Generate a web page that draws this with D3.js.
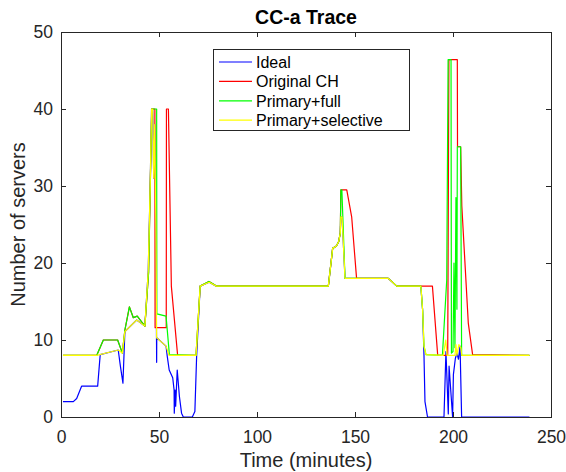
<!DOCTYPE html>
<html>
<head>
<meta charset="utf-8">
<script src="https://cdn.jsdelivr.net/npm/d3@7"></script>
<style>
  body { margin: 0; background: #fff; }
  text { font-family: "Liberation Sans", Arial, sans-serif; fill: #262626; }
</style>
</head>
<body>
<div id="chart"></div>
<script>
// data (time in minutes, number of servers)
var idealT = [1, 6.3, 8, 10.5, 18.7, 20, 29.2, 30.3, 31.6, 32.6, 38.6, 42.8, 44.5, 45.5, 46.2, 46.8, 47.3, 47.8, 48.4, 48.8, 48.85, 53.6, 54.2, 55.2, 57, 57.7, 57.8, 58.2, 58.5, 59.3, 60.4, 61.5, 62.4, 67, 68.3, 69.2, 71, 75.6, 79.2, 136.4, 138.6, 140.5, 141.7, 142.5, 142.8, 143.4, 144.9, 167, 171.3, 183.6, 184.5, 185.2, 185.7, 187, 195.4, 196.4, 197.6, 198, 199.8, 200.2, 201.2, 202, 202.8, 203.6, 204.4, 239];
var idealV = [2, 2, 2.4, 4, 4, 8.1, 8.7, 6.6, 4.4, 11.1, 12.6, 11.8, 19, 30, 40, 40, 31, 38, 25, 7.1, 10.3, 9.2, 7.9, 6.1, 5.1, 3.5, 0.5, 3.5, 1.4, 6.1, 2.7, 0.5, 0, 0, 0.7, 7.9, 17, 17.5, 17, 17, 21.9, 22.2, 22.8, 23.9, 26, 26, 18, 18, 17, 17, 13.9, 8, 2, 0, 0, 8.5, 0.4, 6.6, 0, 5.5, 7.6, 8.3, 7.5, 9.2, 0, 0];

var origT = [1, 18.2, 21.6, 28.9, 31.3, 32.6, 34.9, 36.9, 38.9, 42.8, 44.7, 46.3, 47.9, 48, 53.7, 53.8, 54.8, 56.3, 59.5, 68.9, 71, 75.5, 79.3, 136.4, 138.6, 140.5, 141.7, 142.5, 142.8, 145.8, 148.3, 150.8, 167, 171.3, 189.5, 192.2, 197.3, 197.9, 202.2, 202.3, 203.9, 204.5, 207.8, 210, 239];
var origV = [8, 8, 10, 10, 8.3, 11.3, 14.3, 12.9, 13.1, 11.8, 18.8, 40, 40, 11.6, 11.6, 40, 40, 17, 8, 8, 17, 17.6, 17, 17, 21.9, 22.2, 22.8, 23.9, 29.5, 29.5, 26, 18, 18, 17, 17, 8, 8, 46.4, 46.4, 35.1, 35.1, 27.4, 12.2, 8.1, 8];

var fullT = [1, 18.2, 21.6, 28.9, 31.3, 32.6, 34.9, 36.9, 38.9, 42.8, 44.7, 46.3, 48.8, 48.9, 53.6, 55.3, 68.9, 71, 75.5, 79.3, 136.4, 138.6, 140.5, 141.7, 142.5, 142.8, 143.3, 144.9, 167, 171.3, 183.6, 184.5, 185.2, 186.2, 194.6, 196.8, 197.5, 199, 199.2, 200, 200.5, 201, 201.5, 202, 202.2, 203.9, 204.4, 239];
var fullV = [8, 8, 10, 10, 8.3, 11.3, 14.3, 12.9, 13.1, 11.8, 18.8, 40, 40, 13.4, 13.1, 8.1, 8, 17, 17.6, 17, 17, 21.9, 22.2, 22.8, 23.9, 29.5, 29.5, 18, 18, 17, 17, 13.9, 9.2, 8.1, 8, 17.8, 46.4, 46.4, 8.3, 8.5, 20, 9, 28.5, 14, 35.1, 35.1, 8, 8];

var selT = [1, 18.3, 29.2, 31.3, 32.6, 38.6, 42.8, 44.5, 45.5, 46.2, 46.8, 47.3, 47.8, 48.4, 48.8, 53.6, 55.1, 68.9, 71, 75.6, 79.2, 136.4, 138.6, 140.5, 141.7, 142.5, 142.8, 143.4, 144.9, 167, 171.3, 183.6, 184.5, 185.2, 186.2, 195, 196.3, 197, 201, 201.5, 202, 203, 204, 204.5, 239];
var selV = [8, 8, 8.7, 8.3, 11.1, 12.6, 11.8, 19, 30, 40, 40, 31, 38, 25, 10.3, 9.2, 8, 8, 17, 17.5, 17, 17, 21.9, 22.2, 22.8, 23.9, 26, 26, 18, 18, 17, 17, 13.9, 9.2, 8.1, 8, 10, 8, 8, 9.4, 8, 9.4, 9, 8, 8];

var seriesNames = ["Ideal", "Original CH", "Primary+full", "Primary+selective"];
var seriesColors = ["#0000ff", "#ff0000", "#00ff00", "#ffff00"];
var xTicks = [0, 50, 100, 150, 200, 250];
var yTicks = [0, 10, 20, 30, 40, 50];

var svgWidth = 566;
var svgHeight = 472;

// plot box in pixels
var margin = { top: 32, right: 15, bottom: 55, left: 61 };
var width = svgWidth - margin.left - margin.right;
var height = svgHeight - margin.top - margin.bottom;

var svg = d3.select("#chart")
  .append("svg")
  .attr("width", svgWidth)
  .attr("height", svgHeight);

var g = svg.append("g")
  .attr("transform", `translate(${margin.left}, ${margin.top})`);

var xScale = d3.scaleLinear().domain([0, 250]).range([0, width]);
var yScale = d3.scaleLinear().domain([0, 50]).range([height, 0]);

// series lines, drawn in legend order so yellow ends on top
var seriesData = [
  d3.zip(idealT, idealV),
  d3.zip(origT, origV),
  d3.zip(fullT, fullV),
  d3.zip(selT, selV)
];

var line = d3.line()
  .x(d => xScale(d[0]))
  .y(d => yScale(d[1]));

g.append("defs").append("clipPath").attr("id", "clip")
  .append("rect").attr("width", width).attr("height", height);

g.selectAll(".series")
  .data(seriesData)
  .enter()
  .append("path")
  .attr("class", "series")
  .attr("clip-path", "url(#clip)")
  .attr("d", line)
  .attr("fill", "none")
  .attr("stroke", (d, i) => seriesColors[i])
  .attr("stroke-width", 1.2)
  .attr("stroke-linejoin", "round");

// axes with inward ticks on all four sides
var tickLen = 5;
g.append("g")
  .attr("class", "xAxis")
  .attr("transform", `translate(0, ${height})`)
  .call(d3.axisBottom(xScale).tickValues(xTicks).tickSizeInner(-tickLen).tickSizeOuter(0).tickPadding(14));

g.append("g")
  .attr("class", "xAxisTop")
  .call(d3.axisTop(xScale).tickValues(xTicks).tickSizeInner(-tickLen).tickSizeOuter(0).tickFormat(""));

g.append("g")
  .attr("class", "yAxis")
  .call(d3.axisLeft(yScale).tickValues(yTicks).tickSizeInner(-tickLen).tickSizeOuter(0).tickPadding(8));

g.append("g")
  .attr("class", "yAxisRight")
  .attr("transform", `translate(${width}, 0)`)
  .call(d3.axisRight(yScale).tickValues(yTicks).tickSizeInner(-tickLen).tickSizeOuter(0).tickFormat(""));

g.selectAll(".domain, .tick line")
  .attr("stroke", "#262626")
  .attr("stroke-width", 1)
  .attr("shape-rendering", "crispEdges");

g.selectAll(".tick text")
  .style("font-size", "17.5px")
  .attr("fill", "#262626");

// title and axis labels
svg.append("text")
  .attr("x", margin.left + width / 2)
  .attr("y", 24)
  .attr("text-anchor", "middle")
  .style("font-size", "19.5px")
  .style("font-weight", "bold")
  .style("fill", "#000")
  .text("CC-a Trace");

svg.append("text")
  .attr("x", margin.left + width / 2)
  .attr("y", 467)
  .attr("text-anchor", "middle")
  .style("font-size", "20px")
  .text("Time (minutes)");

svg.append("text")
  .attr("transform", `translate(25, ${margin.top + height / 2}) rotate(-90)`)
  .attr("text-anchor", "middle")
  .style("font-size", "20px")
  .text("Number of servers");

// legend
var legend = svg.append("g").attr("transform", "translate(213, 49)");

legend.append("rect")
  .attr("width", 196)
  .attr("height", 81)
  .attr("fill", "#fff")
  .attr("stroke", "#262626")
  .attr("stroke-width", 1)
  .attr("shape-rendering", "crispEdges");

var rows = legend.selectAll(".row")
  .data(seriesNames)
  .enter()
  .append("g")
  .attr("class", "row")
  .attr("transform", (d, i) => `translate(0, ${13 + i * 19.4})`);

rows.append("line")
  .attr("x1", 6)
  .attr("x2", 39)
  .attr("stroke", (d, i) => seriesColors[i])
  .attr("stroke-width", 1.2);

rows.append("text")
  .attr("x", 43)
  .attr("y", 6)
  .style("font-size", "16px")
  .style("fill", "#000")
  .text(d => d);
</script>
</body>
</html>
